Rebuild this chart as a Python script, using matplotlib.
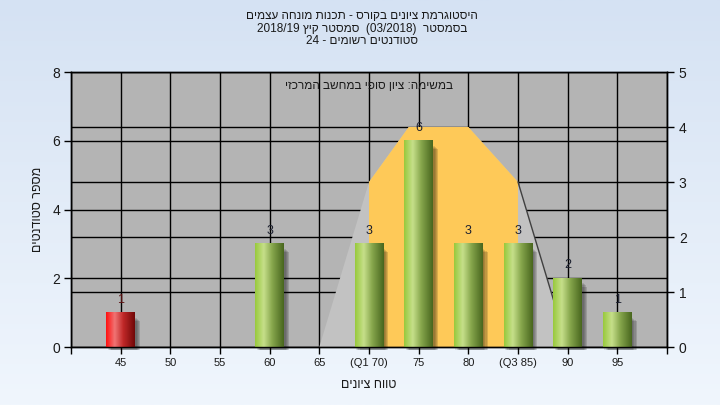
import re
import numpy as np
import matplotlib
matplotlib.use("Agg")
import matplotlib.pyplot as plt
import matplotlib.transforms as mtransforms
from matplotlib.patches import Polygon, Rectangle
from matplotlib.colors import LinearSegmentedColormap

plt.rcParams['font.family'] = ['Liberation Sans', 'DejaVu Sans']

# grade histogram
grades = [45, 60, 70, 75, 80, 85, 90, 95]
counts = [1, 3, 3, 6, 3, 3, 2, 1]
failed = [True, False, False, False, False, False, False, False]

x_ticks = list(range(40, 101, 5))
x_labels = ['', '45', '50', '55', '60', '65', '(Q1 70)', '75', '80', '(Q3 85)', '90', '95', '']

# distribution outline (right axis)
spread_x = [65, 70, 74, 80, 85, 90]
spread_y = [0, 3, 4, 4, 3, 0]
box_x = [70, 70, 74, 80, 85, 85]
box_y = [0, 3, 4, 4, 3, 0]

title_lines = ["היסטוגרמת ציונים בקורס - תכנות מונחה עצמים",
               "בסמסטר  (03/2018)  סמסטר קיץ 2018/19",
               "סטודנטים רשומים - 24"]
task_text = "במשימה: ציון סופי במחשב המרכזי"
x_title = "טווח ציונים"
y_title = "מספר סטודנטים"


def rtl(s):
    # crude visual reordering for Hebrew text
    r = s[::-1]
    r = re.sub(r'[0-9A-Za-z/.]+', lambda m: m.group(0)[::-1], r)
    return r.translate(str.maketrans('()', ')('))


fig = plt.figure(figsize=(7.2, 4.05), dpi=100)

# light blue background gradient
bg = fig.add_axes([0, 0, 1, 1], zorder=-10)
grad = np.linspace(0, 1, 256).reshape(-1, 1)
bg_cmap = LinearSegmentedColormap.from_list('bg', ['#d5e2f3', '#f0f6fd'])
bg.imshow(grad, cmap=bg_cmap, aspect='auto', extent=[0, 1, 0, 1])
bg.axis('off')

ax = fig.add_axes([0.0986, 0.1432, 0.8278, 0.6790])
ax.set_facecolor('#b4b4b4')
ax2 = ax.twinx()

ax.set_xlim(40, 100)
ax.set_ylim(0, 8)
ax2.set_ylim(0, 5)

# grid lines (left, right and x ticks), behind everything
ax.set_axisbelow(True)
ax.grid(True, color='black', linewidth=1.0)
right_tr = mtransforms.blended_transform_factory(ax.transAxes, ax2.transData)
for v in [1, 2, 3, 4]:
    ax.plot([0, 1], [v, v], color='black', linewidth=1.0, transform=right_tr, zorder=0.6)

# distribution shapes on the right-axis scale
ax.add_patch(Polygon(list(zip(spread_x, spread_y)), closed=True, facecolor='#c2c2c2',
                     edgecolor='none', transform=ax2.transData, zorder=1))
ax.add_patch(Polygon(list(zip(box_x, box_y)), closed=True, facecolor='#fec958',
                     edgecolor='none', transform=ax2.transData, zorder=1.5))
ax.plot(spread_x[-2:], spread_y[-2:], color='#404040', linewidth=1.0,
        transform=ax2.transData, zorder=1.6)

green = LinearSegmentedColormap.from_list('g', [(0, '#98c93c'), (0.3, '#c6df8a'),
                                                 (0.6, '#86a64c'), (1, '#48661e')])
red = LinearSegmentedColormap.from_list('r', [(0, '#ff1010'), (0.3, '#f07474'),
                                               (0.6, '#c02828'), (1, '#700808')])
hgrad = np.linspace(0, 1, 128).reshape(1, -1)

bars = ax.bar(grades, counts, width=2.9, color='none', zorder=3)
for rect, c, bad in zip(bars, counts, failed):
    x0 = rect.get_x()
    w = rect.get_width()
    # soft shadow
    for k, a in enumerate([0.10, 0.11, 0.12, 0.14]):
        off = 0.15 + 0.12 * k
        ax.add_patch(Rectangle((x0 + off, -0.1), w, c - 0.05 - 0.03 * k,
                               facecolor='black', alpha=a, edgecolor='none',
                               zorder=2, clip_on=False))
    ax.imshow(hgrad, cmap=red if bad else green, aspect='auto',
              extent=[x0, x0 + w, 0, c], zorder=3)
    ax.text(rect.get_x() + w / 2, c + 0.2, str(c), ha='center', va='bottom',
            fontsize=9, color='#5a1010' if bad else '#1c2030', zorder=4)

ax.set_xlim(40, 100)
ax.set_ylim(0, 8)

ax.set_xticks(x_ticks)
ax.set_xticklabels(x_labels, fontsize=8)
ax.set_yticks([0, 2, 4, 6, 8])
ax.tick_params(axis='both', direction='out', length=5, width=1.0, colors='black',
               labelcolor='#1a1a1a', pad=3)
ax.tick_params(axis='y', labelsize=10)
ax2.set_yticks([0, 1, 2, 3, 4, 5])
ax2.tick_params(axis='y', direction='out', length=5, width=1.0, labelsize=10,
                labelcolor='#1a1a1a')
for a in (ax, ax2):
    for s in a.spines.values():
        s.set_color('black')
        s.set_linewidth(1.0)

ax.set_xlabel(rtl(x_title), fontsize=9, color='#1a1a1a', labelpad=8)
ax.set_ylabel(rtl(y_title), fontsize=9, color='#1a1a1a', labelpad=6)

ax.text(0.5, 0.95, rtl(task_text), transform=ax.transAxes, ha='center', va='center',
        fontsize=8.5, color='#1a1a1a', zorder=5)

fig.text(0.503, 0.975, '\n'.join(rtl(t) for t in title_lines), ha='center', va='top',
         fontsize=8.5, color='#1a1a1a', linespacing=1.05)

fig.savefig('out.png', dpi=100)
